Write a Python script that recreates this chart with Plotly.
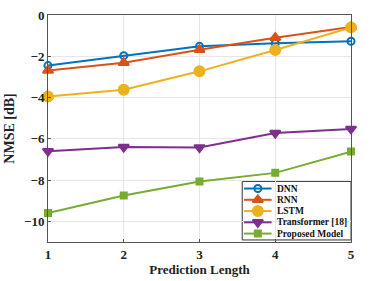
import plotly.graph_objects as go

x_vals = [1, 2, 3, 4, 5]
dnn = [-2.45, -1.97, -1.52, -1.37, -1.27]
rnn = [-2.69, -2.31, -1.68, -1.10, -0.58]
lstm = [-3.95, -3.62, -2.73, -1.70, -0.60]
transformer = [-6.60, -6.40, -6.42, -5.72, -5.52]
proposed = [-9.60, -8.75, -8.07, -7.65, -6.62]
series_names = ["DNN", "RNN", "LSTM", "Transformer [18]", "Proposed Model"]
y_ticks = [0, -2, -4, -6, -8, -10]

series_values = [dnn, rnn, lstm, transformer, proposed]
colors = ["#0072BD", "#D95319", "#EDB120", "#7E2F8E", "#77AC30"]
symbols = ["circle-open", "triangle-up", "circle", "triangle-down", "square"]
sizes = [7, 9, 10, 9, 6]

font = "Liberation Serif, Times New Roman, serif"

fig = go.Figure()
for name, ys, col, sym, sz in zip(series_names, series_values, colors, symbols, sizes):
    fig.add_trace(go.Scatter(
        x=x_vals, y=ys, name=name, mode="lines+markers", showlegend=False,
        line=dict(color=col, width=2),
        marker=dict(symbol=sym, size=sz, color=col, line=dict(color=col, width=2)),
        cliponaxis=False,
    ))

# ---- custom compact legend (layout fractions of the plot area) ----
leg_x0, leg_x1 = 0.641, 1.0
leg_y0, leg_y1 = 0.009, 0.267
glyph_x0, glyph_x1 = 0.647, 0.738
text_x = 0.748
row_top, row_step = 0.2355, 0.0496

fig.add_shape(type="rect", xref="paper", yref="paper",
              x0=leg_x0, x1=leg_x1, y0=leg_y0, y1=leg_y1,
              fillcolor="white", line=dict(color="#333333", width=1), layer="between")

for i, (name, col, sym, sz) in enumerate(zip(series_names, colors, symbols, sizes)):
    yc = row_top - i * row_step
    fig.add_trace(go.Scatter(
        x=[glyph_x0, glyph_x1], y=[yc, yc], mode="lines", xaxis="x2", yaxis="y2",
        line=dict(color=col, width=2), showlegend=False, hoverinfo="skip", cliponaxis=False))
    fig.add_trace(go.Scatter(
        x=[(glyph_x0 + glyph_x1) / 2], y=[yc], mode="markers", xaxis="x2", yaxis="y2",
        marker=dict(symbol=sym, size=sz, color=col, line=dict(color=col, width=2)),
        showlegend=False, hoverinfo="skip", cliponaxis=False))
    fig.add_annotation(x=text_x, y=yc, xref="paper", yref="paper", text=name,
                       showarrow=False, xanchor="left", yanchor="middle",
                       font=dict(family=font, size=9.5, color="#111111", weight="bold"))

fig.update_layout(
    width=383, height=281,
    margin=dict(l=47, r=32, t=8, b=38),
    paper_bgcolor="white", plot_bgcolor="white",
    font=dict(family=font, color="#222222"),
    showlegend=False,
    xaxis=dict(
        range=[1, 5], tickvals=x_vals, ticktext=[str(v) for v in x_vals],
        showgrid=True, gridcolor="#e6e6e6", gridwidth=1,
        showline=True, linecolor="#555555", linewidth=1, mirror=True,
        ticks="inside", ticklen=3, tickcolor="#555555",
        tickfont=dict(family=font, size=13, color="#222222", weight="bold"),
        title=dict(text="Prediction Length", standoff=2,
                   font=dict(family=font, size=13, color="#222222", weight="bold")),
        zeroline=False,
    ),
    yaxis=dict(
        range=[-11, 0], tickvals=y_ticks,
        showgrid=True, gridcolor="#e6e6e6", gridwidth=1,
        showline=True, linecolor="#555555", linewidth=1, mirror=True,
        ticks="inside", ticklen=3, tickcolor="#555555",
        tickfont=dict(family=font, size=13, color="#222222", weight="bold"),
        title=dict(text="NMSE [dB]", standoff=6,
                   font=dict(family=font, size=14, color="#222222", weight="bold")),
        zeroline=False,
    ),
    xaxis2=dict(overlaying="x", range=[0, 1], visible=False, fixedrange=True),
    yaxis2=dict(overlaying="y", range=[0, 1], visible=False, fixedrange=True),
)

fig.write_html("out.html", config={"displayModeBar": False},
               post_script="document.body.style.margin='0';document.body.style.overflow='hidden';")
